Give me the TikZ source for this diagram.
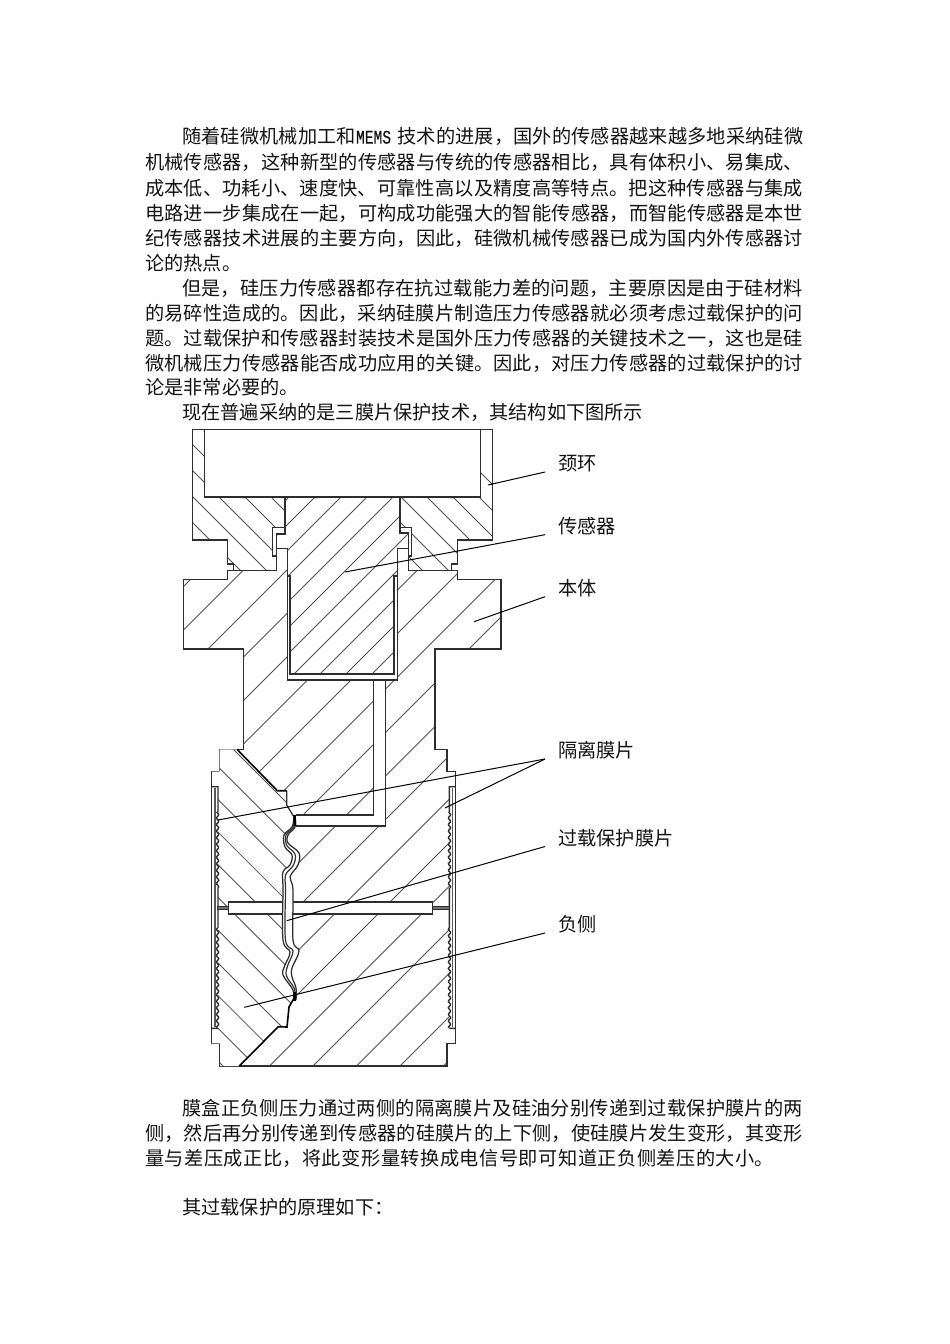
\documentclass[tikz,border=0pt]{standalone}
\usepackage{fontspec}
\usepackage{graphicx}
\setmainfont{Noto Sans CJK SC}
\newfontfamily\memsfont{Liberation Mono}[FakeBold=0.5]
\XeTeXlinebreaklocale "zh"
\XeTeXlinebreakskip=0pt plus 6pt
\def\mems{\scalebox{0.76}[1]{\memsfont MEMS}}
% region outlines
\def\bodyoutline{(227.3,579.3)--(183.3,579.3)--(183.3,649)--(243.7,649)--(243.7,749.3)--(219.7,749.3)--(219.7,771.7)--(211.3,771.7)--(211.3,1043.3)--(220,1043.3)--(220,1066)--(447,1066)--(447,1043.3)--(455.7,1043.3)--(455.7,771.7)--(447,771.7)--(447,749.3)--(435,749.3)--(435,649)--(501,649)--(501,579.3)--(457.3,579.3)--(457.3,570.7)--(408.7,570.7)--(408.7,548.3)--(397.7,548.3)--(397.7,680)--(287.3,680)--(287.3,548.3)--(276.7,548.3)--(276.7,570.7)--(227.3,570.7)--cycle}
\def\collarL{(192.3,429.3)--(204.3,429.3)--(204.3,497)--(285,497)--(285,527.7)--(272.7,527.7)--(272.7,556)--(276.7,556)--(276.7,570.7)--(233.3,570.7)--(233.3,564)--(227.3,564)--(227.3,540)--(192.3,540)--cycle}
\def\collarR{(492.3,429.3)--(480.7,429.3)--(480.7,497)--(400,497)--(400,527.7)--(411.7,527.7)--(411.7,556)--(408.7,556)--(408.7,570.7)--(451.7,570.7)--(451.7,564)--(457.3,564)--(457.3,540)--(492.3,540)--cycle}
\def\sensorblock{(285,497)--(285,534)--(276.7,534)--(276.7,548.3)--(287.3,548.3)--(287.3,576)--(290,576)--(290,674)--(394,674)--(394,576)--(397.7,576)--(397.7,548.3)--(408.7,548.3)--(408.7,533)--(400,533)--(400,497)--cycle}
\def\waveL{plot[smooth,tension=0.6] coordinates {(294,817)(292,827)(284,835)(285,847)(292,855)(290,865)(283,872)(283,890)(283,940)(290,952)(285,965)(283,975)(293,990)(293,1000)}}
\def\waveR{plot[smooth,tension=0.6] coordinates {(295,817)(295,827)(288,835)(288,843)(299,853)(298,865)(290,877)(293,890)(293,940)(299,951)(292,968)(292,977)(296,988)(296,1000)}}
\def\waveM{plot[smooth,tension=0.6] coordinates {(294.5,817)(293.5,827)(286,835)(286.5,845)(295,854)(293.5,865)(285.5,875)(285.5,890)(285.5,940)(293,951)(287.5,966)(286.5,976)(294.5,989)(294.5,1000)}}
\def\wedgepath{(219.7,749.3)--(237,749.3)--(277.3,790.7)--(286.7,790.7)--(286.7,805)--plot[smooth,tension=0.6] coordinates {(294,817)(292,827)(284,835)(285,847)(292,855)(290,865)(283,872)(283,890)(283,940)(290,952)(285,965)(283,975)(293,990)(293,1000)}--(289,1007)--(287,1027)--(278.3,1026.7)--(239.3,1066)--(220,1066)--(220,1043.3)--(211.3,1043.3)--(211.3,771.7)--(219.7,771.7)--cycle}
\tikzset{
  outline/.style={draw=black!82,line width=1.25pt,line join=miter},
  hatchline/.style={draw=black!68,line width=0.85pt},
  leader/.style={draw=black,line width=1pt},
  para/.style={anchor=west,inner sep=0pt,font=\fontsize{19.2pt}{23pt}\selectfont,text=black!92},
  fullline/.style={para,text width=659pt},
  lbl/.style={anchor=west,inner ysep=0pt,inner xsep=13pt,font=\fontsize{19.2pt}{23pt}\selectfont,text=black!92},
}
\newcommand{\fullln}[3]{\node[fullline] (#1) at (145,#2) {\parfillskip=0pt\relax #3\par};}
\newcommand{\restln}[3]{\node[para] (#1) at (145,#2) {#3};}
\newcommand{\hatchBack}[3]{% family x+y = #1 + #2*k, k up to #3
  \foreach \k in {0,...,#3}{\pgfmathsetmacro\cc{#1+#2*\k}\draw[hatchline] ({\cc-400},400)--({\cc-1100},1100);}}
\newcommand{\hatchFore}[3]{% family x-y = #1 + #2*k
  \foreach \k in {0,...,#3}{\pgfmathsetmacro\cc{#1+#2*\k}\draw[hatchline] ({\cc+400},400)--({\cc+1100},1100);}}
\begin{document}
\begin{tikzpicture}[x=1pt,y=-1pt]
\useasboundingbox (0,0) rectangle (950,1344);
\fill[white] (0,0) rectangle (950,1344);
% ---------- text
\fullln{t1}{136.5}{\hspace*{37pt}随着硅微机械加工和\mems{} 技术的进展，国外的传感器越来越多地采纳硅微}
\fullln{t2}{162}{机械传感器，这种新型的传感器与传统的传感器相比，具有体积小、易集成、}
\fullln{t3}{188}{成本低、功耗小、速度快、可靠性高以及精度高等特点。把这种传感器与集成}
\fullln{t4}{213}{电路进一步集成在一起，可构成功能强大的智能传感器，而智能传感器是本世}
\fullln{t5}{238}{纪传感器技术进展的主要方向，因此，硅微机械传感器已成为国内外传感器讨}
\restln{t6}{263}{论的热点。}
\fullln{t7}{288.5}{\hspace*{37pt}但是，硅压力传感器都存在抗过载能力差的问题，主要原因是由于硅材料}
\fullln{t8}{313}{的易碎性造成的。因此，采纳硅膜片制造压力传感器就必须考虑过载保护的问}
\fullln{t9}{338}{题。过载保护和传感器封装技术是国外压力传感器的关键技术之一，这也是硅}
\fullln{t10}{363}{微机械压力传感器能否成功应用的关键。因此，对压力传感器的过载保护的讨}
\restln{t11}{387}{论是非常必要的。}
\node[para] (t12) at (182,412) {现在普遍采纳的是三膜片保护技术，其结构如下图所示};
\fullln{b1}{1108}{\hspace*{37pt}膜盒正负侧压力通过两侧的隔离膜片及硅油分别传递到过载保护膜片的两}
\fullln{b2}{1133}{侧，然后再分别传递到传感器的硅膜片的上下侧，使硅膜片发生变形，其变形}
\node[fullline,text width=632pt] (b3) at (145,1158) {\parfillskip=0pt\relax 量与差压成正比，将此变形量转换成电信号即可知道正负侧差压的大小。\par};
\node[para] (b4) at (182,1207.5) {其过载保护的原理如下：};
% ---------- body
\begin{scope}\clip \bodyoutline; \hatchBack{770}{43.5}{17} \end{scope}
\draw[outline] \bodyoutline;
% ---------- left lower wedge
\fill[white] \wedgepath;
\begin{scope}\clip \wedgepath; \hatchFore{-843}{32.7}{10} \end{scope}
\draw[outline] (286.7,790.7)--(286.7,805)--(294,817);
\draw[draw=black,line width=1.6pt] (237,749.3)--(277.3,790.7)--(286.7,790.7);
\draw[draw=black,line width=1.6pt] (293,1000)--(289,1007)--(287,1027)--(278.3,1026.7)--(239.3,1066);
% ---------- left and right isolation chambers
\fill[white] (212,786.7) rectangle (218,1028.3);
\fill[white] (449.5,786.7) rectangle (455,1028.3);
\begin{scope}
 \draw[outline,line width=1.4pt] (211.3,786.7)--(218,786.7)--(218,812)
   plot[domain=812:888,samples=60] ({217.6+1.1*sin((\x-800)*55)},\x)
   (218,888)--(218,928) plot[domain=928:1028,samples=80] ({217.6+1.1*sin((\x-800)*55)},\x)
   (218,1028.3)--(211.3,1028.3);
 \draw[draw=black!65,line width=1.6pt] (214.8,788)--(214.8,1027);
 \draw[outline,line width=1.4pt] (455.7,786.7)--(449.3,786.7)--(449.3,812)
   plot[domain=812:888,samples=60] ({449.5+1.1*sin((\x-800)*55)},\x)
   (449.3,888)--(449.3,928) plot[domain=928:1028,samples=80] ({449.5+1.1*sin((\x-800)*55)},\x)
   (449.3,1028.3)--(455.7,1028.3);
 \draw[draw=black!65,line width=1.6pt] (452.5,788)--(452.5,1027);
\end{scope}
\draw[outline] (211.3,771.7)--(211.3,1043.3) (455.7,771.7)--(455.7,1043.3);
% ---------- overload slot and its passages
\draw[outline,fill=black!55] (217.7,906.6) rectangle (228.3,909.6);
\draw[outline,fill=black!55] (432.7,906.6) rectangle (449.3,909.6);
\draw[outline,fill=white] (228.3,902) rectangle (432.7,914);
% ---------- oil pipe
\fill[white] (373.7,680.7)--(385.7,680.7)--(385.7,826)--(295,826)--(295,815)--(373.7,815)--cycle;
\draw[outline] (373.7,680)--(373.7,815)--(296,815) (385.7,680)--(385.7,826)--(296,826);
% ---------- centre diaphragm
\fill[white] plot[smooth,tension=0.6] coordinates {(294,817)(292,827)(284,835)(285,847)(292,855)(290,865)(283,872)(283,890)(283,940)(290,952)(285,965)(283,975)(293,990)(293,1000)} -- (296,1000) -- plot[smooth,tension=0.6] coordinates {(296,988)(292,977)(292,968)(299,951)(293,940)(293,890)(290,877)(298,865)(299,853)(288,843)(288,835)(295,827)(295,817)} -- cycle;
\draw[outline] \waveL;
\draw[outline] \waveR;
\draw[draw=black!80,line width=1.2pt] \waveM;
\draw[draw=black,line width=2.6pt] (294.5,815)--(295,826);
\draw[draw=black,line width=3pt] (294.5,992)--(294.5,1001);
% ---------- collar
\fill[white] \collarL; \fill[white] \collarR;
\begin{scope}\clip \collarL; \hatchFore{-330}{26}{4} \end{scope}
\begin{scope}\clip \collarR; \hatchFore{-174}{26}{7} \end{scope}
\draw[outline] \collarL;
\draw[outline] \collarR;
% ---------- sensor
\fill[white] \sensorblock;
\begin{scope}\clip \sensorblock; \hatchBack{786}{26}{12} \end{scope}
\draw[outline] (285,497)--(285,534)--(276.7,534)--(276.7,548.3)--(287.3,548.3)--(287.3,576)--(290,576)--(290,674)--(394,674)--(394,576)--(397.7,576)--(397.7,548.3)--(408.7,548.3)--(408.7,533)--(400,533)--(400,497);
\draw[outline] (192.3,429.3)--(492.3,429.3);
\draw[outline] (204.3,497)--(480.7,497);
\draw[outline] (287.3,680)--(397.7,680);
% ---------- labels and leaders
\node[lbl] (L1) at (545,464) {颈环};
\node[lbl] (L2) at (545,526) {传感器};
\node[lbl] (L3) at (545,588) {本体};
\node[lbl] (L4) at (545,750) {隔离膜片};
\node[lbl] (L5) at (545,838) {过载保护膜片};
\node[lbl] (L6) at (545,924.5) {负侧};
\coordinate (p1) at (488,485);
\coordinate (p2) at (345,572);
\coordinate (p3) at (474,621.7);
\coordinate (p4a) at (218,820);
\coordinate (p4b) at (445,808);
\coordinate (p5) at (286.7,920.7);
\coordinate (p6) at (244.3,1007.3);
\draw[leader] ([yshift=-8pt]L1.west)--(p1);
\draw[leader] ([yshift=-8.7pt]L2.west)--(p2);
\draw[leader] ([yshift=-8.7pt]L3.west)--(p3);
\draw[leader] ([yshift=-9pt]L4.west)--(p4a);
\draw[leader] ([yshift=-9pt]L4.west)--(p4b);
\draw[leader] ([yshift=-8.5pt]L5.west)--(p5);
\draw[leader] ([yshift=-8.5pt]L6.west)--(p6);
\end{tikzpicture}
\end{document}
